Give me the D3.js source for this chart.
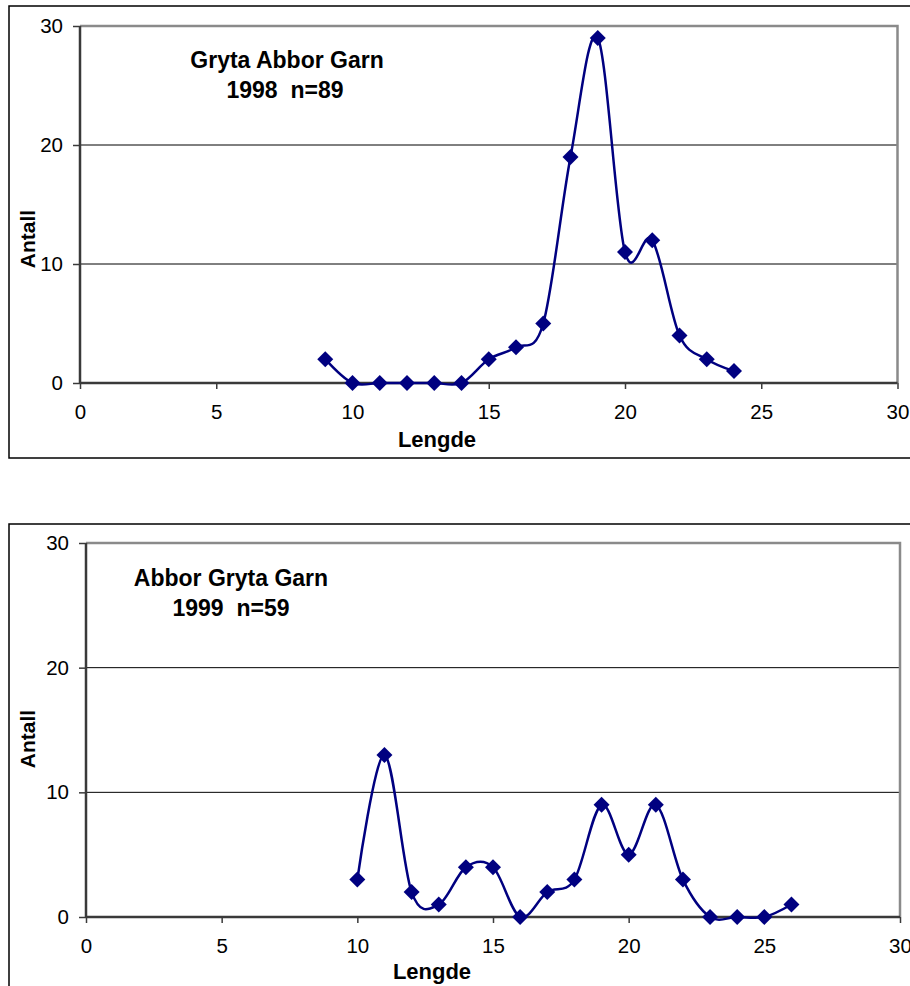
<!DOCTYPE html>
<html>
<head>
<meta charset="utf-8">
<script src="https://cdn.jsdelivr.net/npm/d3@7"></script>
<style>
  html, body { margin: 0; padding: 0; background: #fff; }
  svg { display: block; }
  text { font-family: "Liberation Sans", Arial, sans-serif; fill: #000; }
</style>
</head>
<body>
<svg id="chart" width="910" height="986"></svg>
<script>
// ---- Data ----
const lengths1998 = [9, 10, 11, 12, 13, 14, 15, 16, 17, 18, 19, 20, 21, 22, 23, 24];
const counts1998  = [2, 0, 0, 0, 0, 0, 2, 3, 5, 19, 29, 11, 12, 4, 2, 1];
const title1998   = ["Gryta Abbor Garn", "1998  n=89"];

const lengths1999 = [10, 11, 12, 13, 14, 15, 16, 17, 18, 19, 20, 21, 22, 23, 24, 25, 26];
const counts1999  = [3, 13, 2, 1, 4, 4, 0, 2, 3, 9, 5, 9, 3, 0, 0, 0, 1];
const title1999   = ["Abbor Gryta Garn", "1999  n=59"];

const xTicks = [0, 5, 10, 15, 20, 25, 30];
const yTicks = [0, 10, 20, 30];
const xLabel = "Lengde";
const yLabel = "Antall";

const svg = d3.select("#chart");
const navy = "#000080";

function drawChart(cfg) {
  const g = svg.append("g");
  // outer frame
  g.append("rect")
    .attr("x", cfg.frame.x).attr("y", cfg.frame.y)
    .attr("width", cfg.frame.w).attr("height", cfg.frame.h)
    .attr("fill", "none").attr("stroke", "#000").attr("stroke-width", 1.5);

  const x = d3.scaleLinear().domain([0, 30]).range([cfg.left, cfg.right]);
  const y = d3.scaleLinear().domain([0, 30]).range([cfg.bottom, cfg.top]);

  // gridlines
  g.selectAll("line.grid").data(yTicks.filter(t => t > 0 && t < 30)).enter()
    .append("line")
    .attr("x1", cfg.left).attr("x2", cfg.right)
    .attr("y1", d => y(d)).attr("y2", d => y(d))
    .attr("stroke", "#000").attr("stroke-width", 1);

  // top & right border (gray)
  g.append("path")
    .attr("d", `M${cfg.left},${cfg.top}H${cfg.right}V${cfg.bottom}`)
    .attr("fill", "none").attr("stroke", "#8a8a8a").attr("stroke-width", 2.5);

  // axes
  const xAxis = d3.axisBottom(x).tickValues(xTicks).tickSize(6).tickPadding(15)
    .tickFormat(d3.format("d"));
  const yAxis = d3.axisLeft(y).tickValues(yTicks).tickSize(7).tickPadding(10)
    .tickFormat(d3.format("d"));

  const gx = g.append("g").attr("transform", `translate(0,${cfg.bottom})`).call(xAxis);
  const gy = g.append("g").attr("transform", `translate(${cfg.left},0)`).call(yAxis);
  [gx, gy].forEach(a => {
    a.select(".domain").attr("stroke", "#3a3a3a").attr("stroke-width", 2.5);
    a.selectAll(".tick line").attr("stroke", "#3a3a3a").attr("stroke-width", 1.5);
    a.selectAll(".tick text")
      .attr("font-family", "'Liberation Sans', Arial, sans-serif")
      .attr("font-size", 20.5).attr("fill", "#000");
  });
  gy.select(".domain").attr("d", `M0,${cfg.bottom}V${cfg.top}`);
  gx.select(".domain").attr("d", `M0,0H${cfg.right - cfg.left}`).attr("transform", `translate(${cfg.left},0)`);

  // curve
  const pts = cfg.xs.map((v, i) => [v, cfg.ys[i]]);
  const line = d3.line()
    .x(d => x(d[0])).y(d => y(d[1]))
    .curve(d3.curveCatmullRom.alpha(0));
  g.append("path").datum(pts)
    .attr("d", line)
    .attr("fill", "none").attr("stroke", navy).attr("stroke-width", 2.5);

  // markers
  const dia = "M0,-8L8,0L0,8L-8,0Z";
  g.selectAll("path.mk").data(pts).enter()
    .append("path")
    .attr("d", dia)
    .attr("transform", d => `translate(${x(d[0])},${y(d[1])})`)
    .attr("fill", navy);

  // title
  g.append("text")
    .attr("x", cfg.titleX).attr("y", cfg.titleY)
    .attr("text-anchor", "middle").attr("font-weight", "bold").attr("font-size", 23)
    .text(cfg.title[0]);
  g.append("text")
    .attr("x", cfg.titleX2).attr("y", cfg.titleY + 30)
    .attr("text-anchor", "middle").attr("font-weight", "bold").attr("font-size", 23)
    .style("white-space", "pre")
    .text(cfg.title[1]);

  // axis labels
  g.append("text")
    .attr("x", cfg.xLabelX).attr("y", cfg.xLabelY)
    .attr("text-anchor", "middle").attr("font-weight", "bold").attr("font-size", 22)
    .text(xLabel);
  g.append("text")
    .attr("transform", `translate(${cfg.yLabelX},${cfg.yLabelY}) rotate(-90)`)
    .attr("text-anchor", "middle").attr("font-weight", "bold").attr("font-size", 21)
    .text(yLabel);
}

drawChart({
  frame: { x: 9, y: 6, w: 920, h: 452 },
  left: 80, right: 897.5, top: 26, bottom: 383,
  xs: lengths1998, ys: counts1998, title: title1998,
  titleX: 287, titleX2: 285, titleY: 68,
  xLabelX: 437, xLabelY: 447,
  yLabelX: 35, yLabelY: 239
});

drawChart({
  frame: { x: 9, y: 524, w: 920, h: 480 },
  left: 86, right: 900, top: 543, bottom: 917,
  xs: lengths1999, ys: counts1999, title: title1999,
  titleX: 231, titleX2: 231, titleY: 586,
  xLabelX: 432, xLabelY: 979,
  yLabelX: 35, yLabelY: 739
});
</script>
</body>
</html>
